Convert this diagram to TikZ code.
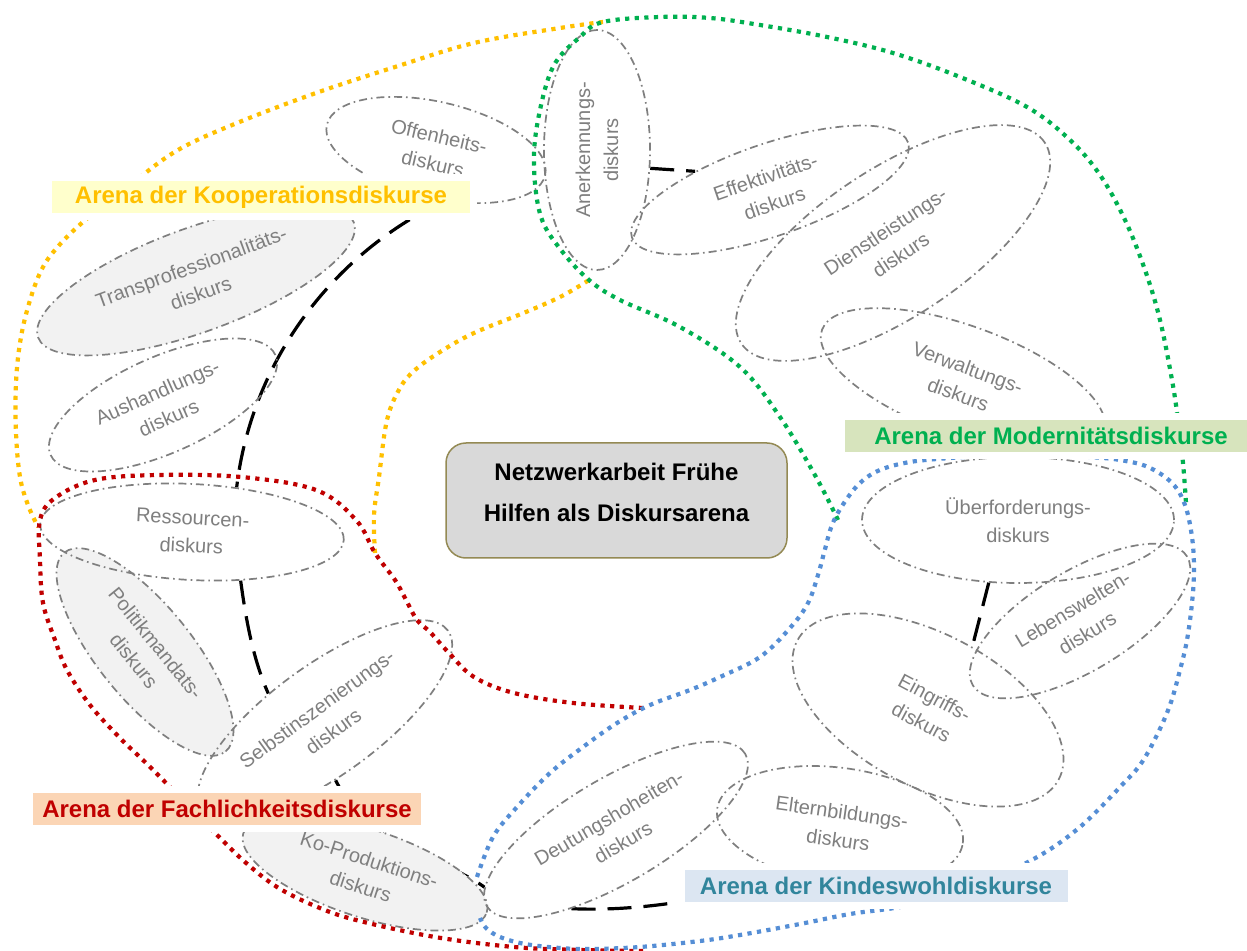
\documentclass[tikz,border=0pt]{standalone}
\usepackage{fontspec}
\setmainfont{Liberation Sans}
\usetikzlibrary{shapes.geometric}
\definecolor{dgray}{HTML}{7F7F7F}
\definecolor{lgray}{HTML}{F2F2F2}
\definecolor{ayel}{HTML}{FFC000}
\definecolor{agreen}{HTML}{00B050}
\definecolor{ared}{HTML}{C00000}
\definecolor{ablue}{HTML}{558ED5}
\definecolor{kfill}{HTML}{FFFFCC}
\definecolor{mfill}{HTML}{D7E4BD}
\definecolor{ffill}{HTML}{FBD5B5}
\definecolor{kwfill}{HTML}{DCE6F2}
\definecolor{kwtext}{HTML}{31859C}
\definecolor{cfill}{HTML}{D9D9D9}
\definecolor{cbord}{HTML}{948A54}
\pgfdeclarelayer{bg}
\pgfsetlayers{bg,main}
\begin{document}
\begin{tikzpicture}[x=0.5pt,y=-0.5pt,
  disc/.style={ellipse, draw=dgray, line width=0.85pt,
    dash pattern=on 4pt off 2pt on 0.8pt off 2pt, inner sep=0pt,
    text=dgray, font=\fontsize{10}{14}\selectfont, align=center},
  discfill/.style={disc, fill=lgray},
  conn/.style={black, line width=1.6pt, dash pattern=on 12pt off 6pt},
  arena/.style={line width=2.1pt, dash pattern=on 2.1pt off 2.7pt},
  lab/.style={font=\fontsize{12}{14}\bfseries\selectfont, inner sep=0pt,
    minimum height=16pt, preaction={draw=white, line width=7pt}}
]
\useasboundingbox (0,0) rectangle (1247,951);
\begin{pgfonlayer}{bg}
\fill[white] (0,0) rectangle (1247,951);
\end{pgfonlayer}

% discourse ellipses
\node[disc, fill=white, minimum width=112pt, minimum height=48pt, rotate=-13] (off) at (436,150) {Offenheits-\\diskurs};
\node[disc, minimum width=120pt, minimum height=53pt, rotate=90] (aner) at (597,150) {Anerkennungs-\\diskurs};
\node[disc, minimum width=146pt, minimum height=46pt, rotate=19] (eff) at (770,190) {Effektivitäts-\\diskurs};
\node[disc, minimum width=182pt, minimum height=74pt, rotate=33.5] (dienst) at (893,243) {Dienstleistungs-\\diskurs};
\node[disc, minimum width=150pt, minimum height=55pt, rotate=-20] (verw) at (963,381) {Verwaltungs-\\diskurs};
\node[discfill, minimum width=168pt, minimum height=52pt, rotate=20] (trans) at (196,280) {Transprofessionalitäts-\\diskurs};
\node[disc, minimum width=123pt, minimum height=48pt, rotate=24] (aush) at (163,405) {Aushandlungs-\\diskurs};
\node[discfill, minimum width=128pt, minimum height=47pt, rotate=-51] (poli) at (145,652) {Politikmandats-\\diskurs};
\node[disc, minimum width=152pt, minimum height=48pt, rotate=-3] (ress) at (192,532) {Ressourcen-\\diskurs};
\node[disc, minimum width=152pt, minimum height=55pt, rotate=36] (selbst) at (325,720) {Selbstinszenierungs-\\diskurs};
\node[discfill, minimum width=128pt, minimum height=44pt, rotate=-18] (kopro) at (365,873) {Ko-Produktions-\\diskurs};
\node[disc, minimum width=150pt, minimum height=52pt, rotate=30.5] (deut) at (616,830) {Deutungshoheiten-\\diskurs};
\node[disc, minimum width=124pt, minimum height=58pt, rotate=-8] (eltern) at (840,826) {Elternbildungs-\\diskurs};
\node[disc, minimum width=148pt, minimum height=76pt, rotate=-28] (eingr) at (928,710) {Eingriffs-\\diskurs};
\node[disc, minimum width=156pt, minimum height=63pt] (ueber) at (1018,520) {Überforderungs-\\diskurs};
\node[disc, minimum width=125pt, minimum height=50pt, rotate=31] (leben) at (1080,621) {Lebenswelten-\\diskurs};

% black dashed connectors (behind)
\begin{pgfonlayer}{bg}
\draw[conn] (aner.-109) -- (eff.147);
\draw[conn] (aner.111) .. controls (384,195) and (256,325) .. (ress.48);
\draw[conn] (ress.-42) .. controls (246,620) and (253,659) .. (selbst.119);
\draw[conn] (selbst.-116) .. controls (370,850) and (440,855) .. (deut.173);
\draw[conn] (deut.210) .. controls (640,912) and (720,898) .. (eltern.235);
\draw[conn] (ueber.245) -- (eingr.83);
\end{pgfonlayer}

% arena boundaries
\draw[arena, ayel] plot[smooth, tension=0.6] coordinates {(603,22) (560,28) (474,43) (395,67) (316,93) (237,123) (178,150) (130,185) (83,222) (55,250) (40,273) (28,307) (20,343) (16,383) (16,433) (20,477) (28,505) (38,527)};
\draw[arena, ayel] plot[smooth, tension=0.6] coordinates {(375,553) (374,515) (379,477) (387,420) (400,388) (415,370) (440,352) (474,333) (526,312) (562,296) (589,280)};
\draw[arena, agreen] plot[smooth, tension=0.6] coordinates {(838,520) (816,477) (780,417) (740,367) (680,327) (620,300) (589,280) (561,250) (541,217) (534,167) (538,120) (553,67) (580,37) (603,22) (660,17) (710,18) (760,25) (827,37) (893,53) (960,77) (1027,107) (1070,140) (1100,175) (1125,220) (1145,270) (1160,320) (1172,380) (1178,420) (1183,463) (1186,503)};
\draw[arena, ared] plot[smooth, tension=0.6] coordinates {(643,708) (573,703) (514,693) (474,677) (449,653) (430,632) (417,620) (405,598) (395,580) (375,553) (356,520) (316,490) (241,477) (158,475) (95,480) (55,498) (40,520) (40,560) (43,603) (55,640) (67,670) (90,705) (119,737) (145,762) (166,783) (190,808) (215,833) (245,862) (277,887) (315,906) (356,920) (435,937) (514,947) (580,950) (645,951)};
\draw[arena, ablue] plot[smooth, tension=0.6] coordinates {(477,877) (493,837) (517,807) (550,773) (583,747) (617,723) (650,705) (690,690) (720,677) (760,657) (790,628) (808,603) (818,575) (824,553) (832,525) (844,503) (860,483) (880,470) (910,462) (950,458) (1000,455) (1050,455) (1090,457) (1120,460) (1148,467) (1172,483) (1185,505) (1192,537) (1194,570) (1192,603) (1187,640) (1180,670) (1170,705) (1156,737) (1140,765) (1120,787) (1100,808) (1080,827) (1055,846) (1028,862) (990,880) (950,895) (900,907) (850,914) (800,924) (740,935) (700,941) (640,947) (590,949) (560,948) (525,944) (500,937) (486,928) (480,918)};

% centre
\node[draw=cbord, fill=cfill, rounded corners=10pt, line width=0.75pt,
  minimum width=170.5pt, minimum height=57.5pt, align=center,
  font=\fontsize{12}{20.5}\bfseries\selectfont, text depth=8.6pt] (centre) at (616.5,500.5) {Netzwerkarbeit Frühe\\Hilfen als Diskursarena};

% arena labels
\node[lab, fill=kfill, text=ayel, minimum width=209pt] (lkoop) at (261,197.5) {Arena der Kooperationsdiskurse};
\node[lab, fill=mfill, text=agreen, minimum width=206pt] (lmod) at (1051,436) {Arena der Modernitätsdiskurse};
\node[lab, fill=ffill, text=ared, minimum width=194pt] (lfach) at (227,809) {Arena der Fachlichkeitsdiskurse};
\node[lab, fill=kwfill, text=kwtext, minimum width=191.5pt] (lkind) at (876,886) {Arena der Kindeswohldiskurse};
\end{tikzpicture}
\end{document}
